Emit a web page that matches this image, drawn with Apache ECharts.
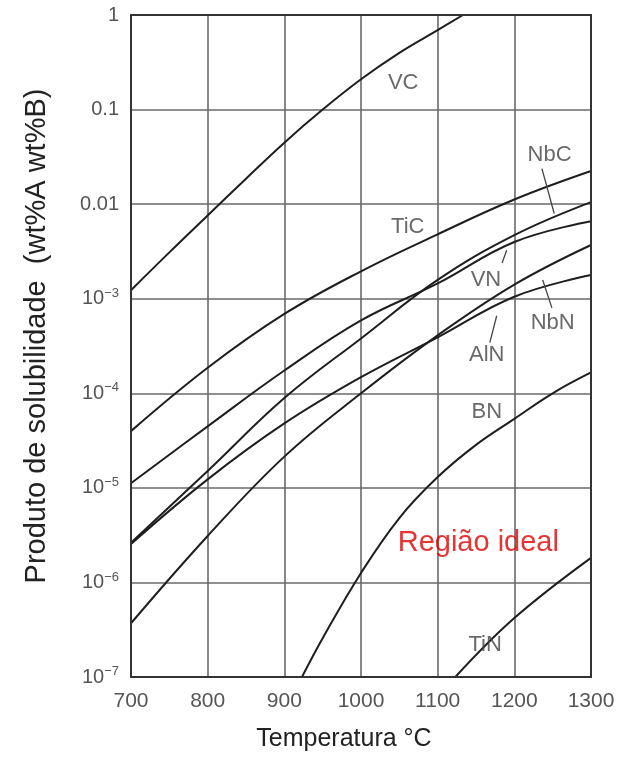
<!DOCTYPE html>
<html><head><meta charset="utf-8">
<script src="https://cdn.jsdelivr.net/npm/echarts@6/dist/echarts.min.js"></script>
<style>html,body{margin:0;padding:0;background:#fff}#c{width:618px;height:757px}</style>
</head><body><div id="c"></div>
<script>
// Temperature (°C) vs solubility product (wt%A · wt%B)
const xTicks = [700, 800, 900, 1000, 1100, 1200, 1300];
const vc  = [[700,1.23e-3],[750,3.09e-3],[800,7.6e-3],[850,0.0186],[900,0.0447],[950,0.1],[1000,0.209],[1050,0.398],[1100,0.692],[1133,1.0]];
const tic = [[700,3.98e-5],[800,1.86e-4],[900,6.9e-4],[1000,1.95e-3],[1100,4.8e-3],[1200,0.0112],[1300,0.0224]];
const nbc = [[700,2.63e-6],[800,1.51e-5],[900,8.9e-5],[1000,3.8e-4],[1100,1.58e-3],[1200,4.7e-3],[1300,0.0105]];
const vn  = [[700,1.12e-5],[800,4.47e-5],[900,1.74e-4],[1000,5.9e-4],[1100,1.45e-3],[1200,3.98e-3],[1300,6.6e-3]];
const nbn = [[700,2.55e-6],[800,1.23e-5],[900,4.8e-5],[1000,1.48e-4],[1100,3.9e-4],[1200,1.05e-3],[1300,1.78e-3]];
const aln = [[700,3.7e-7],[800,3.1e-6],[900,2.14e-5],[1000,1.0e-4],[1100,4.1e-4],[1200,1.41e-3],[1300,3.7e-3]];
const bn  = [[923,1e-7],[950,2.57e-7],[1000,1.26e-6],[1050,4.8e-6],[1100,1.3e-5],[1150,2.85e-5],[1200,5.37e-5],[1250,1.0e-4],[1300,1.66e-4]];
const tin = [[1123,1e-7],[1200,4.2e-7],[1300,1.82e-6]];
const curves = [vc, tic, nbc, vn, nbn, aln, bn, tin];

// label anchors (data coordinates)
const curveLabels = [
  ['VC', 1055, 0.189], ['NbC', 1246, 0.033], ['TiC', 1061, 5.7e-3], ['VN', 1163, 1.58e-3],
  ['NbN', 1250, 5.6e-4], ['AlN', 1164, 2.57e-4], ['BN', 1164, 6.3e-5], ['TiN', 1162, 2.2e-7]
];
const regionLabel = ['Região ideal', 1153, 2.6e-6];
const leaders = [
  [[1236, 0.0237], [1252, 7.97e-3]],
  [[1184, 2.38e-3], [1190, 3.26e-3]],
  [[1168, 3.44e-4], [1177, 6.6e-4]],
  [[1249, 8.0e-4], [1237, 1.58e-3]]
];

const FONT = '"Liberation Sans", Arial, sans-serif';
const series = [];
curves.forEach(d => series.push({
  type: 'line', data: d, smooth: 0.4, showSymbol: false, symbol: 'none',
  lineStyle: { color: '#1e1e1e', width: 2 }, silent: true, clip: true, z: 3
}));
leaders.forEach(d => series.push({
  type: 'line', data: d, showSymbol: false, symbol: 'none',
  lineStyle: { color: '#444', width: 1.3 }, silent: true, z: 3
}));
series.push({
  type: 'scatter', symbolSize: 0, silent: true, z: 4,
  data: curveLabels.map(l => ({ name: l[0], value: [l[1], l[2]] })),
  label: { show: true, position: 'inside', formatter: p => p.name, color: '#444', fontSize: 22, fontFamily: FONT }
});
series.push({
  type: 'scatter', symbolSize: 0, silent: true, z: 4,
  data: [{ name: regionLabel[0], value: [regionLabel[1], regionLabel[2]] }],
  label: { show: true, position: 'inside', formatter: p => p.name, color: '#e00000', fontSize: 29, fontFamily: FONT }
});

const chart = echarts.init(document.getElementById('c'), null, { renderer: 'canvas' });
chart.setOption({
  animation: false,
  backgroundColor: '#fff',
  grid: { left: 131, right: 27, top: 15, bottom: 75, show: true, borderColor: '#333', borderWidth: 2, backgroundColor: 'transparent', z: 5 },
  xAxis: {
    type: 'value', min: 700, max: 1300, interval: 100,
    axisLine: { show: false }, axisTick: { show: false },
    splitLine: { show: true, lineStyle: { color: '#6a6a6a', width: 1.6 } },
    axisLabel: { color: '#555', fontSize: 21, fontFamily: FONT, margin: 14, formatter: v => xTicks.includes(v) ? String(v) : '' },
    name: 'Temperatura °C', nameLocation: 'middle', nameGap: 50,
    nameTextStyle: { color: '#222', fontSize: 25, fontFamily: FONT, padding: [0, 34, 0, 0] }
  },
  yAxis: {
    type: 'log', logBase: 10, min: 1e-7, max: 1, interval: 1,
    axisLine: { show: false }, axisTick: { show: false },
    splitLine: { show: true, lineStyle: { color: '#6a6a6a', width: 1.6 } },
    axisLabel: {
      color: '#555', fontSize: 20, fontFamily: FONT, margin: 12,
      formatter: v => {
        const e = Math.round(Math.log10(v));
        if (e === 0) return '{b|1}';
        if (e === -1) return '{b|0.1}';
        if (e === -2) return '{b|0.01}';
        return '{b|10}{s|−' + (-e) + '}';
      },
      rich: {
        b: { color: '#555', fontSize: 20, fontFamily: FONT, lineHeight: 24 },
        s: { color: '#555', fontSize: 13, fontFamily: FONT, lineHeight: 24, verticalAlign: 'top' }
      }
    },
    name: 'Produto de solubilidade  (wt%A wt%B)', nameLocation: 'middle', nameGap: 80, nameRotate: 90,
    nameTextStyle: { color: '#222', fontSize: 29, fontFamily: FONT, padding: [0, 0, 0, 20] }
  },
  series
});
</script></body></html>
